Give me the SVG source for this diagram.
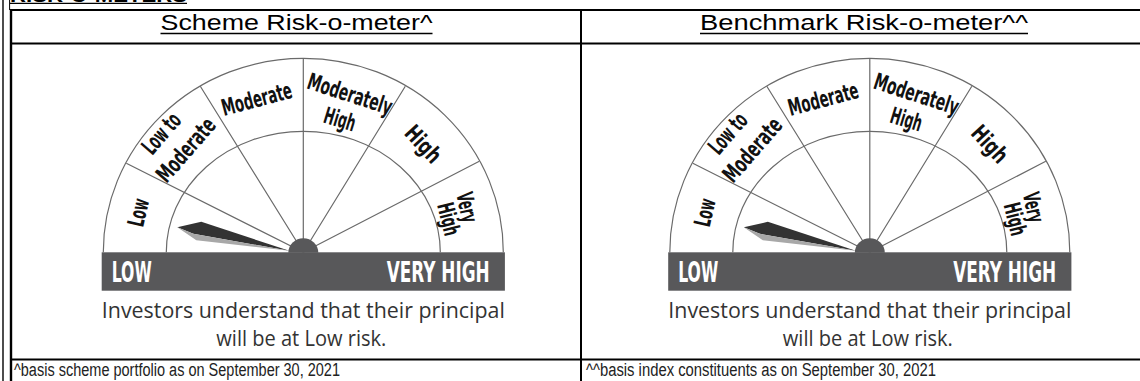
<svg xmlns="http://www.w3.org/2000/svg" width="1140" height="381" viewBox="0 0 1140 381">
<style>
.grid line{stroke:#000;stroke-width:2}
.hdr{font-family:"Liberation Sans",Arial,sans-serif;font-size:22px;fill:#000;text-anchor:middle}
.ttl{font-family:"Liberation Sans",Arial,sans-serif;font-size:20px;font-weight:bold;fill:#000}
.lbl{font-family:"Liberation Sans Narrow","DejaVu Sans Condensed","Liberation Sans",sans-serif;font-weight:bold;font-size:23px;fill:#111;text-anchor:middle;dominant-baseline:central}
.bandt{font-family:"Liberation Sans Narrow","DejaVu Sans Condensed","Liberation Sans",sans-serif;font-weight:bold;font-size:29px;fill:#fff}
.inv{font-family:"Open Sans","Noto Sans",sans-serif;font-size:21px;fill:#333;text-anchor:middle}
.note{font-family:"Liberation Sans Narrow","Liberation Sans",sans-serif;font-size:18px;fill:#222}
.arc{fill:none;stroke:#6a6a6a;stroke-width:1.2}
.band{fill:#58585a}
.dark{fill:#333}
.light{fill:#a8a8a8}
</style>
<g id="title">
<text class="ttl" x="10" y="2" textLength="177" lengthAdjust="spacingAndGlyphs">RISK-O-METERS</text>
<line x1="10" y1="3.4" x2="187" y2="3.4" stroke="#000" stroke-width="1.4"/>
</g>
<g id="grid" class="grid">
<line x1="3" y1="0" x2="3" y2="381" style="stroke-width:1.4"/>
<line x1="9.6" y1="0" x2="9.6" y2="10" style="stroke-width:1"/>
<line x1="11" y1="9" x2="11" y2="381" style="stroke-width:2.4"/>
<line x1="10" y1="10" x2="1140" y2="10"/>
<line x1="10" y1="43.5" x2="1140" y2="43.5"/>
<line x1="581" y1="10" x2="581" y2="381"/>
<line x1="10" y1="359.5" x2="1140" y2="359.5"/>
</g>
<g id="header-scheme">
<text class="hdr" x="296.5" y="30" textLength="272" lengthAdjust="spacingAndGlyphs">Scheme Risk-o-meter^</text>
<line x1="160.5" y1="33.5" x2="432.5" y2="33.5" stroke="#000" stroke-width="1.3"/>
</g>
<g id="header-benchmark">
<text class="hdr" x="864" y="30" textLength="328" lengthAdjust="spacingAndGlyphs">Benchmark Risk-o-meter^^</text>
<line x1="700" y1="33.5" x2="1028" y2="33.5" stroke="#000" stroke-width="1.3"/>
</g>
<g id="gauge-scheme" transform="translate(303.3,252.3)">
<path class="arc" d="M-200 0 A200 194 0 0 1 200 0"/>
<path class="arc" d="M-137 0 A137 121 0 0 1 137 0"/>
<path class="arc" d="M0 0 L-177 -89 M0 0 L-103 -166 M0 0 L0 -194 M0 0 L102 -166 M0 0 L176 -91"/>
<polygon class="dark" points="-126,-25 -102,-30.5 -14,-1.5 -110,-18.5"/>
<polygon class="light" points="-126,-25 -110,-18.5 -14,-1.5 -107,-12"/>
<rect class="band" x="-201.6" y="0" width="403.2" height="38.4"/>
<path class="band" d="M-15 0.5 A15 14.5 0 0 1 15 0.5 Z"/>
<text class="bandt" x="-191.6" y="30" textLength="40" lengthAdjust="spacingAndGlyphs">LOW</text>
<text class="bandt" x="83.4" y="30" textLength="103" lengthAdjust="spacingAndGlyphs">VERY HIGH</text>
<text class="lbl" transform="translate(-165,-40) rotate(-77)" textLength="28" lengthAdjust="spacingAndGlyphs">Low</text>
<text class="lbl" transform="translate(-142,-119) rotate(-49)" textLength="46" lengthAdjust="spacingAndGlyphs">Low to</text>
<text class="lbl" transform="translate(-117.5,-102.5) rotate(-49)" textLength="77" lengthAdjust="spacingAndGlyphs">Moderate</text>
<text class="lbl" transform="translate(-46.6,-153.3) rotate(-15)" textLength="72" lengthAdjust="spacingAndGlyphs">Moderate</text>
<text class="lbl" transform="translate(46.7,-158.3) rotate(18)" textLength="88" lengthAdjust="spacingAndGlyphs">Moderately</text>
<text class="lbl" transform="translate(36.7,-133) rotate(17)" textLength="32" lengthAdjust="spacingAndGlyphs">High</text>
<text class="lbl" transform="translate(120,-108.3) rotate(47)" textLength="42" lengthAdjust="spacingAndGlyphs">High</text>
<text class="lbl" transform="translate(164,-45) rotate(78)" textLength="30" lengthAdjust="spacingAndGlyphs">Very</text>
<text class="lbl" transform="translate(145.5,-33.3) rotate(76)" textLength="33" lengthAdjust="spacingAndGlyphs">High</text>
<text class="inv" x="0" y="65.5" textLength="403" lengthAdjust="spacingAndGlyphs">Investors understand that their principal</text>
<text class="inv" x="-2" y="94" textLength="170" lengthAdjust="spacingAndGlyphs">will be at Low risk.</text>
</g>
<g id="gauge-benchmark" transform="translate(869.8,252.3)">
<path class="arc" d="M-200 0 A200 194 0 0 1 200 0"/>
<path class="arc" d="M-137 0 A137 121 0 0 1 137 0"/>
<path class="arc" d="M0 0 L-177 -89 M0 0 L-103 -166 M0 0 L0 -194 M0 0 L102 -166 M0 0 L176 -91"/>
<polygon class="dark" points="-126,-25 -102,-30.5 -14,-1.5 -110,-18.5"/>
<polygon class="light" points="-126,-25 -110,-18.5 -14,-1.5 -107,-12"/>
<rect class="band" x="-201.6" y="0" width="403.2" height="38.4"/>
<path class="band" d="M-15 0.5 A15 14.5 0 0 1 15 0.5 Z"/>
<text class="bandt" x="-191.6" y="30" textLength="40" lengthAdjust="spacingAndGlyphs">LOW</text>
<text class="bandt" x="83.4" y="30" textLength="103" lengthAdjust="spacingAndGlyphs">VERY HIGH</text>
<text class="lbl" transform="translate(-165,-40) rotate(-77)" textLength="28" lengthAdjust="spacingAndGlyphs">Low</text>
<text class="lbl" transform="translate(-142,-119) rotate(-49)" textLength="46" lengthAdjust="spacingAndGlyphs">Low to</text>
<text class="lbl" transform="translate(-117.5,-102.5) rotate(-49)" textLength="77" lengthAdjust="spacingAndGlyphs">Moderate</text>
<text class="lbl" transform="translate(-46.6,-153.3) rotate(-15)" textLength="72" lengthAdjust="spacingAndGlyphs">Moderate</text>
<text class="lbl" transform="translate(46.7,-158.3) rotate(18)" textLength="88" lengthAdjust="spacingAndGlyphs">Moderately</text>
<text class="lbl" transform="translate(36.7,-133) rotate(17)" textLength="32" lengthAdjust="spacingAndGlyphs">High</text>
<text class="lbl" transform="translate(120,-108.3) rotate(47)" textLength="42" lengthAdjust="spacingAndGlyphs">High</text>
<text class="lbl" transform="translate(164,-45) rotate(78)" textLength="30" lengthAdjust="spacingAndGlyphs">Very</text>
<text class="lbl" transform="translate(145.5,-33.3) rotate(76)" textLength="33" lengthAdjust="spacingAndGlyphs">High</text>
<text class="inv" x="0" y="65.5" textLength="403" lengthAdjust="spacingAndGlyphs">Investors understand that their principal</text>
<text class="inv" x="-2" y="94" textLength="170" lengthAdjust="spacingAndGlyphs">will be at Low risk.</text>
</g>
<g id="note-scheme">
<text class="note" x="14" y="376" textLength="326" lengthAdjust="spacingAndGlyphs">^basis scheme portfolio as on September 30, 2021</text>
</g>
<g id="note-benchmark">
<text class="note" x="586" y="376" textLength="350" lengthAdjust="spacingAndGlyphs">^^basis index constituents as on September 30, 2021</text>
</g>
</svg>
